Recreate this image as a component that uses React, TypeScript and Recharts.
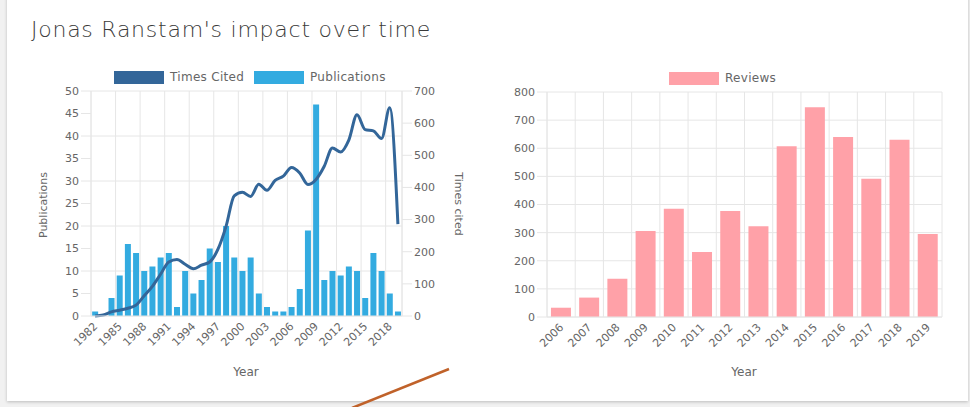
import React from 'react';
import { ComposedChart, BarChart, Bar, Line, XAxis, YAxis, CartesianGrid } from 'recharts';

const years = [
  '1982', '1983', '1984', '1985', '1986', '1987', '1988', '1989', '1990', '1991',
  '1992', '1993', '1994', '1995', '1996', '1997', '1998', '1999', '2000', '2001',
  '2002', '2003', '2004', '2005', '2006', '2007', '2008', '2009', '2010', '2011',
  '2012', '2013', '2014', '2015', '2016', '2017', '2018', '2019',
];
const publications = [
  1, 0, 4, 9, 16, 14, 10, 11, 13, 14,
  2, 10, 5, 8, 15, 12, 20, 13, 10, 13,
  5, 2, 1, 1, 2, 6, 19, 47, 8, 10,
  9, 11, 10, 4, 14, 10, 5, 1,
];
const timesCited = [
  0, 3, 13, 18, 24, 34, 63, 92, 130, 168,
  176, 161, 147, 158, 168, 207, 279, 374, 385, 372,
  410, 391, 422, 435, 462, 445, 409, 425, 466, 523,
  510, 547, 626, 580, 576, 552, 648, 286,
];
const reviewYears = [
  '2006', '2007', '2008', '2009', '2010', '2011', '2012',
  '2013', '2014', '2015', '2016', '2017', '2018', '2019',
];
const reviews = [33, 69, 136, 306, 385, 231, 377, 323, 607, 746, 640, 492, 630, 295];

const pubTicks = [0, 5, 10, 15, 20, 25, 30, 35, 40, 45, 50];
const citedTicks = [0, 100, 200, 300, 400, 500, 600, 700];
const reviewTicks = [0, 100, 200, 300, 400, 500, 600, 700, 800];

const leftData = years.map((y, i) => ({ year: y, pubs: publications[i], cited: timesCited[i] }));
const rightData = reviewYears.map((y, i) => ({ year: y, reviews: reviews[i] }));

const FONT = '"DejaVu Sans", Verdana, sans-serif';
const GRID = '#e6e6e6';
const TXT = '#666';
const DARK_BLUE = '#336699';
const LIGHT_BLUE = '#33abe0';
const PINK = '#ffa1a8';

const XTick = (props: any) => {
  const { x, y, payload } = props;
  return (
    <g transform={`translate(${x + 3},${y + 3})`}>
      <text x={0} y={0} textAnchor="end" transform="rotate(-45)" fill={TXT} fontSize={11} fontFamily={FONT}>
        {payload.value}
      </text>
    </g>
  );
};

const leftGridX = ({ offset }: any) => {
  const pts: number[] = [];
  const n = years.length;
  for (let i = 0; i < n; i += 3) pts.push(offset.left + (i * offset.width) / n);
  pts.push(offset.left + offset.width);
  return pts;
};

const rightGridX = ({ offset }: any) => {
  const pts: number[] = [];
  const n = reviewYears.length;
  for (let i = 0; i <= n; i++) pts.push(offset.left + (i * offset.width) / n);
  return pts;
};

const tickStyle = { fill: TXT, fontSize: 11, fontFamily: FONT };

const abs = (s: React.CSSProperties): React.CSSProperties => ({ position: 'absolute', ...s });

const LegendItem = ({ color, label, left, top }: any) => (
  <div style={abs({ left, top, display: 'flex', alignItems: 'center', fontFamily: FONT, fontSize: 12, color: TXT, whiteSpace: 'nowrap' })}>
    <div style={{ width: 50, height: 13, background: color, marginRight: 6 }} />
    <span style={{ letterSpacing: 0.3 }}>{label}</span>
  </div>
);

export default function App() {
  return (
    <div style={{ position: 'fixed', left: 0, top: 0, width: 970, height: 407, background: '#f1f1f1', overflow: 'hidden' }}>
      <div style={abs({ left: 7, top: -20, width: 961, height: 421, background: '#fff', boxShadow: '0 1px 3px rgba(0,0,0,0.22)' })} />
      <div style={abs({ left: 31, top: 17, fontFamily: FONT, fontWeight: 200, fontSize: 22, color: '#3a3a3a', whiteSpace: 'nowrap', letterSpacing: 0.75 })}>
        Jonas Ranstam's impact over time
      </div>

      <div style={abs({ left: 0, top: 0 })}>
        <ComposedChart width={480} height={407} data={leftData} margin={{ top: 91, right: 28, bottom: 31, left: 0 }} barCategoryGap="14%">
          <CartesianGrid yAxisId="left" stroke={GRID} verticalCoordinatesGenerator={leftGridX} />
          <XAxis dataKey="year" interval={2} height={60} tick={<XTick />} tickLine={false} stroke={GRID} />
          <YAxis yAxisId="left" orientation="left" width={91} domain={[0, 50]} ticks={pubTicks} tick={tickStyle} tickSize={10} tickMargin={2} stroke={GRID} />
          <YAxis yAxisId="right" orientation="right" width={50} domain={[0, 700]} ticks={citedTicks} tick={{ ...tickStyle, textAnchor: 'start' }} tickSize={10} tickMargin={2} stroke={GRID} />
          <Bar yAxisId="left" dataKey="pubs" fill={LIGHT_BLUE} isAnimationActive={false} />
          <Line yAxisId="right" dataKey="cited" type="monotone" stroke={DARK_BLUE} strokeWidth={3} dot={false} isAnimationActive={false} />
        </ComposedChart>
      </div>

      <div style={abs({ left: 480, top: 0 })}>
        <BarChart width={490} height={407} data={rightData} margin={{ top: 92, right: 28, bottom: 30, left: 0 }} barCategoryGap="14%">
          <CartesianGrid stroke={GRID} verticalCoordinatesGenerator={rightGridX} />
          <XAxis dataKey="year" interval={0} height={60} tick={<XTick />} tickLine={false} stroke={GRID} />
          <YAxis width={67} domain={[0, 800]} ticks={reviewTicks} tick={tickStyle} tickSize={10} tickMargin={2} stroke={GRID} />
          <Bar dataKey="reviews" fill={PINK} isAnimationActive={false} />
        </BarChart>
      </div>

      <LegendItem color={DARK_BLUE} label="Times Cited" left={114} top={70} />
      <LegendItem color={LIGHT_BLUE} label="Publications" left={254} top={70} />
      <LegendItem color={PINK} label="Reviews" left={669} top={71} />

      <div style={abs({ left: 43, top: 205, transform: 'translate(-50%,-50%) rotate(-90deg)', fontFamily: FONT, fontSize: 11, color: TXT, whiteSpace: 'nowrap' })}>
        Publications
      </div>
      <div style={abs({ left: 458, top: 204, transform: 'translate(-50%,-50%) rotate(90deg)', fontFamily: FONT, fontSize: 11, color: TXT, whiteSpace: 'nowrap' })}>
        Times cited
      </div>
      <div style={abs({ left: 246, top: 372, transform: 'translate(-50%,-50%)', fontFamily: FONT, fontSize: 12, color: TXT })}>Year</div>
      <div style={abs({ left: 744, top: 372, transform: 'translate(-50%,-50%)', fontFamily: FONT, fontSize: 12, color: TXT })}>Year</div>

      <svg width={970} height={407} style={abs({ left: 0, top: 0, pointerEvents: 'none' })}>
        <line x1={352} y1={408} x2={449} y2={369} stroke="#c0622a" strokeWidth={2.5} />
      </svg>
    </div>
  );
}
